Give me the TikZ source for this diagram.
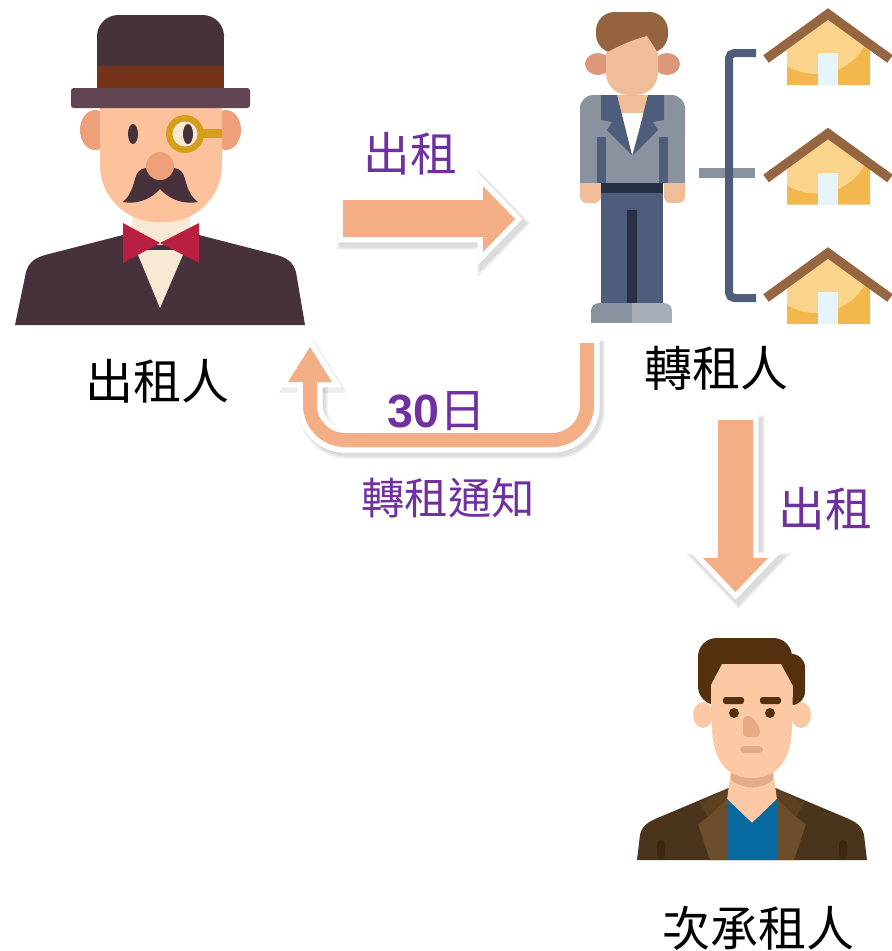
\documentclass[tikz,border=0pt]{standalone}
\usepackage{fontspec}
\usepackage{tikz}
\newfontfamily\cjk{Noto Sans CJK TC}
\newfontfamily\numfont{Liberation Sans}

% palette
\definecolor{notepurple}{HTML}{7030A0}
\definecolor{flowpeach}{HTML}{F3AE85}
\definecolor{plum}{HTML}{47323C}
\definecolor{hatband}{HTML}{75341A}
\definecolor{hatbrim}{HTML}{624453}
\definecolor{blush}{HTML}{EDA07A}
\definecolor{skinA}{HTML}{FDC19C}
\definecolor{cream}{HTML}{F7E9D4}
\definecolor{bowred}{HTML}{B91F41}
\definecolor{monogold}{HTML}{D4A01C}
\definecolor{lens}{HTML}{F8E8D6}
\definecolor{hairB}{HTML}{946340}
\definecolor{skinB}{HTML}{EFBE98}
\definecolor{earB}{HTML}{DB977A}
\definecolor{suitgray}{HTML}{8A929F}
\definecolor{suitnavy}{HTML}{4E5D7B}
\definecolor{darknavy}{HTML}{263243}
\definecolor{shoelight}{HTML}{A8AEB8}
\definecolor{roof}{HTML}{966643}
\definecolor{walllight}{HTML}{F9D48A}
\definecolor{walldark}{HTML}{F3B84D}
\definecolor{door}{HTML}{E8F4FB}
\definecolor{hairC}{HTML}{54300E}
\definecolor{skinC}{HTML}{FDC9A5}
\definecolor{shadeC}{HTML}{E4AC86}
\definecolor{jacket}{HTML}{4A341C}
\definecolor{collar}{HTML}{5C4220}
\definecolor{lapel}{HTML}{6C4F2A}
\definecolor{shirtblue}{HTML}{066AA1}
\definecolor{armline}{HTML}{3A2810}

\begin{document}
\begin{tikzpicture}[
  x=0.75pt,y=-0.75pt,
  role/.style={font=\cjk\fontsize{36}{40}\selectfont,text=black,inner sep=0pt},
  note/.style={font=\cjk\fontsize{35}{40}\selectfont,text=notepurple,inner sep=0pt},
  smallnote/.style={font=\cjk\fontsize{32.5}{38}\selectfont,text=notepurple,inner sep=0pt},
  flowshadow/.style={draw=black,fill=black,opacity=0.07,line join=miter},
  flowrim/.style={draw=white,fill=white,line width=8pt,line join=miter},
  flowbody/.style={fill=flowpeach}
]
\useasboundingbox (0,0) rectangle (892,951);

% ---------- arrows ----------
% right arrow (lease out)
\foreach \w in {13,10} {
  \filldraw[flowshadow,line width=\w pt,shift={(3,4)}]
    (343,200) -- (483,200) -- (483,186) -- (515,219) -- (483,252) -- (483,237) -- (343,237) -- cycle;
}
\filldraw[flowrim] (343,200) -- (483,200) -- (483,186) -- (515,219) -- (483,252) -- (483,237) -- (343,237) -- cycle;
\fill[flowbody] (343,200) -- (483,200) -- (483,186) -- (515,219) -- (483,252) -- (483,237) -- (343,237) -- cycle;

% down arrow (sublet)
\foreach \w in {13,10} {
  \filldraw[flowshadow,line width=\w pt,shift={(3,4)}]
    (718,420) -- (753,420) -- (753,558) -- (768,558) -- (735.5,592) -- (703,558) -- (718,558) -- cycle;
}
\filldraw[flowrim] (718,420) -- (753,420) -- (753,558) -- (768,558) -- (735.5,592) -- (703,558) -- (718,558) -- cycle;
\fill[flowbody] (718,420) -- (753,420) -- (753,558) -- (768,558) -- (735.5,592) -- (703,558) -- (718,558) -- cycle;

% u-turn arrow (notice back to landlord)
\foreach \w in {22,19} {
  \draw[black,opacity=0.07,line width=\w pt,shift={(3,4)}]
    (587,337) -- (587,405) arc[start angle=0,end angle=90,radius=35] -- (345,440)
    arc[start angle=90,end angle=180,radius=35] -- (310,380);
}
\filldraw[flowshadow,line width=10pt,shift={(3,4)}] (288,382) -- (332,382) -- (310,347) -- cycle;
\draw[white,line width=19pt]
  (587,336) -- (587,405) arc[start angle=0,end angle=90,radius=35] -- (345,440)
  arc[start angle=90,end angle=180,radius=35] -- (310,380);
\filldraw[flowrim] (288,382) -- (332,382) -- (310,347) -- cycle;
\draw[flowpeach,line width=10.5pt]
  (587,343) -- (587,405) arc[start angle=0,end angle=90,radius=35] -- (345,440)
  arc[start angle=90,end angle=180,radius=35] -- (310,381);
\fill[flowbody] (288,382) -- (332,382) -- (310,347) -- cycle;

% ---------- landlord ----------
% body and bow tie
\fill[plum] (15,325) -- (26,272) .. controls (29,262) and (35,258) .. (45,255) -- (123,235)
  -- (199,235) -- (277,255) .. controls (287,258) and (293,262) .. (296,272) -- (305,325) -- cycle;
\fill[cream] (132,205) rectangle (190,245);
\fill[cream] (136,250) -- (185,250) -- (160,308) -- cycle;
\fill[bowred] (123,223) -- (123,263) -- (160,243) -- cycle;
\fill[bowred] (199,223) -- (199,263) -- (160,243) -- cycle;
% ears and face
\fill[blush] (95,130) ellipse [x radius=15,y radius=20];
\fill[blush] (226,130) ellipse [x radius=15,y radius=20];
\fill[skinA] (100,105) -- (100,165) arc[start angle=180,end angle=90,radius=57] -- (165,222)
  arc[start angle=90,end angle=0,radius=57] -- (222,105) -- cycle;
% hat
\fill[plum,rounded corners=16pt] (97,15) rectangle (224,55);
\fill[plum] (97,35) rectangle (224,67);
\fill[hatband] (97,66) rectangle (224,89);
\fill[hatbrim,rounded corners=2pt] (71,88) rectangle (250,108);
% eyes, monocle
\fill[plum] (133,134) ellipse [x radius=5,y radius=10];
\fill[monogold] (200,129) rectangle (222,138);
\fill[monogold] (185,134) circle [radius=19];
\fill[lens] (185,134) circle [radius=12.5];
\fill[plum] (188,134) ellipse [x radius=5,y radius=10];
% moustache and nose
\fill[plum] (160,176) .. controls (150,164) and (138,166) .. (135,179)
  .. controls (132,190) and (129,197) .. (123,202)
  .. controls (140,205) and (153,197) .. (160,189)
  .. controls (167,197) and (180,205) .. (198,202)
  .. controls (191,197) and (188,190) .. (185,179)
  .. controls (182,166) and (170,164) .. (160,176) -- cycle;
\fill[blush] (160,166) circle [radius=14];

% ---------- head tenant ----------
\fill[earB] (598,64) ellipse [x radius=13,y radius=11];
\fill[earB] (667,64) ellipse [x radius=13,y radius=11];
\fill[hairB,rounded corners=14pt] (596,12) rectangle (668,53);
\fill[skinB] (606,53) .. controls (620,45) and (635,39) .. (647,36) -- (658,53) -- (658,73)
  arc[start angle=0,end angle=90,radius=22] -- (628,95)
  arc[start angle=90,end angle=180,radius=22] -- cycle;
% hands, jacket
\fill[skinB,rounded corners=5pt] (580,165) rectangle (601,203);
\fill[skinB,rounded corners=5pt] (664,165) rectangle (685,203);
\fill[suitgray,rounded corners=10pt] (580,95) rectangle (685,150);
\fill[suitgray] (580,120) rectangle (685,183);
\fill[skinB] (617,95) -- (648,95) -- (643,114) -- (621,114) -- cycle;
\fill[white] (620,113) -- (644,113) -- (632,155) -- cycle;
\fill[suitnavy] (601,95) -- (617,95) -- (632,155) -- (607,130) -- (612,122) -- (601,120) -- cycle;
\fill[suitnavy] (664,95) -- (648,95) -- (633,155) -- (658,130) -- (653,122) -- (664,120) -- cycle;
\fill[suitnavy] (597,137) rectangle (606,183);
\fill[suitnavy] (659,137) rectangle (668,183);
% trousers, belt, shoes
\fill[suitnavy] (601,183) rectangle (663,304);
\fill[darknavy] (601,183) rectangle (663,193);
\fill[darknavy] (627,210) rectangle (637,304);
\begin{scope}
  \clip[rounded corners=6pt] (591,303) rectangle (672,330);
  \fill[suitgray] (591,303) rectangle (632,323);
  \fill[shoelight] (632,303) rectangle (672,323);
\end{scope}

% bracket to the flats
\fill[suitgray] (699,168) rectangle (755,178);
\draw[suitnavy,line width=6pt,rounded corners=4pt] (756,53) -- (729,53) -- (729,298) -- (756,298);

% flats
\foreach \dy in {0,119.5,239} {
  \begin{scope}[shift={(0,\dy)}]
    \fill[walldark] (787,85) -- (787,43) -- (828,16) -- (870,43) -- (870,85) -- cycle;
    \begin{scope}
      \clip (787,85) -- (787,43) -- (828,16) -- (870,43) -- (870,85) -- cycle;
      \fill[walllight] (816,18) circle [radius=56];
    \end{scope}
    \fill[door] (818,53) rectangle (838,85);
    \draw[roof,line width=7pt] (766,59) -- (828,14) -- (890,59);
  \end{scope}
}

% ---------- subtenant ----------
\fill[jacket] (637,860) -- (640,835) .. controls (642,826) and (648,822) .. (655,819) -- (731,787)
  -- (773,787) -- (849,819) .. controls (856,822) and (862,826) .. (864,835) -- (867,860) -- cycle;
\fill[collar] (731,787) -- (700,803) -- (708,817) -- (727,799) -- cycle;
\fill[collar] (773,787) -- (804,803) -- (796,817) -- (777,799) -- cycle;
\fill[lapel] (708,817) -- (698,824) -- (710,860) -- (727,860) -- (727,799) -- cycle;
\fill[lapel] (796,817) -- (806,824) -- (794,860) -- (777,860) -- (777,799) -- cycle;
\fill[skinC] (731,770) -- (773,770) -- (777,800) -- (752,823) -- (727,800) -- cycle;
\fill[shadeC] (731,770) -- (731,780) .. controls (745,790) and (760,790) .. (773,780) -- (773,770) -- cycle;
\fill[shirtblue] (727,799) -- (752,823) -- (777,799) -- (777,860) -- (727,860) -- cycle;
\fill[armline,rounded corners=3pt] (657,840) rectangle (665,860);
\fill[armline,rounded corners=3pt] (839,840) rectangle (847,860);
% head
\fill[skinC] (703,715) ellipse [x radius=10,y radius=13];
\fill[skinC] (801,715) ellipse [x radius=10,y radius=13];
\fill[hairC,rounded corners=14pt] (698,638) rectangle (792,705);
\fill[hairC,rounded corners=10pt] (770,654) rectangle (805,705);
\fill[skinC] (711,702) -- (711,685) -- (722,664) -- (781,664) -- (793,686) -- (792,730)
  .. controls (790,765) and (774,778) .. (752,778) .. controls (730,778) and (714,765) .. (712,730) -- cycle;
\fill[hairC,rounded corners=2pt] (723,697) rectangle (744,704);
\fill[hairC,rounded corners=2pt] (760,697) rectangle (781,704);
\fill[hairC] (734,713) circle [radius=5];
\fill[hairC] (770,713) circle [radius=5];
\fill[shadeC,rounded corners=3pt] (743,716) -- (752,716) -- (760,728) -- (760,737) -- (743,737) -- cycle;
\fill[shadeC,rounded corners=3pt] (740,746) rectangle (763,753);

% ---------- labels ----------
\node[role] (landlord) at (157,381) {出租人};
\node[role] (tenant) at (716,368) {轉租人};
\node[role] (subtenant) at (758,928) {次承租人};
\node[note] (leaseA) at (410,154) {出租};
\node[note] (leaseB) at (825,509) {出租};
\node[note] (days) at (437,411) {{\numfont\bfseries 30}日};
\node[smallnote] (notice) at (448,498) {轉租通知};
\end{tikzpicture}
\end{document}
